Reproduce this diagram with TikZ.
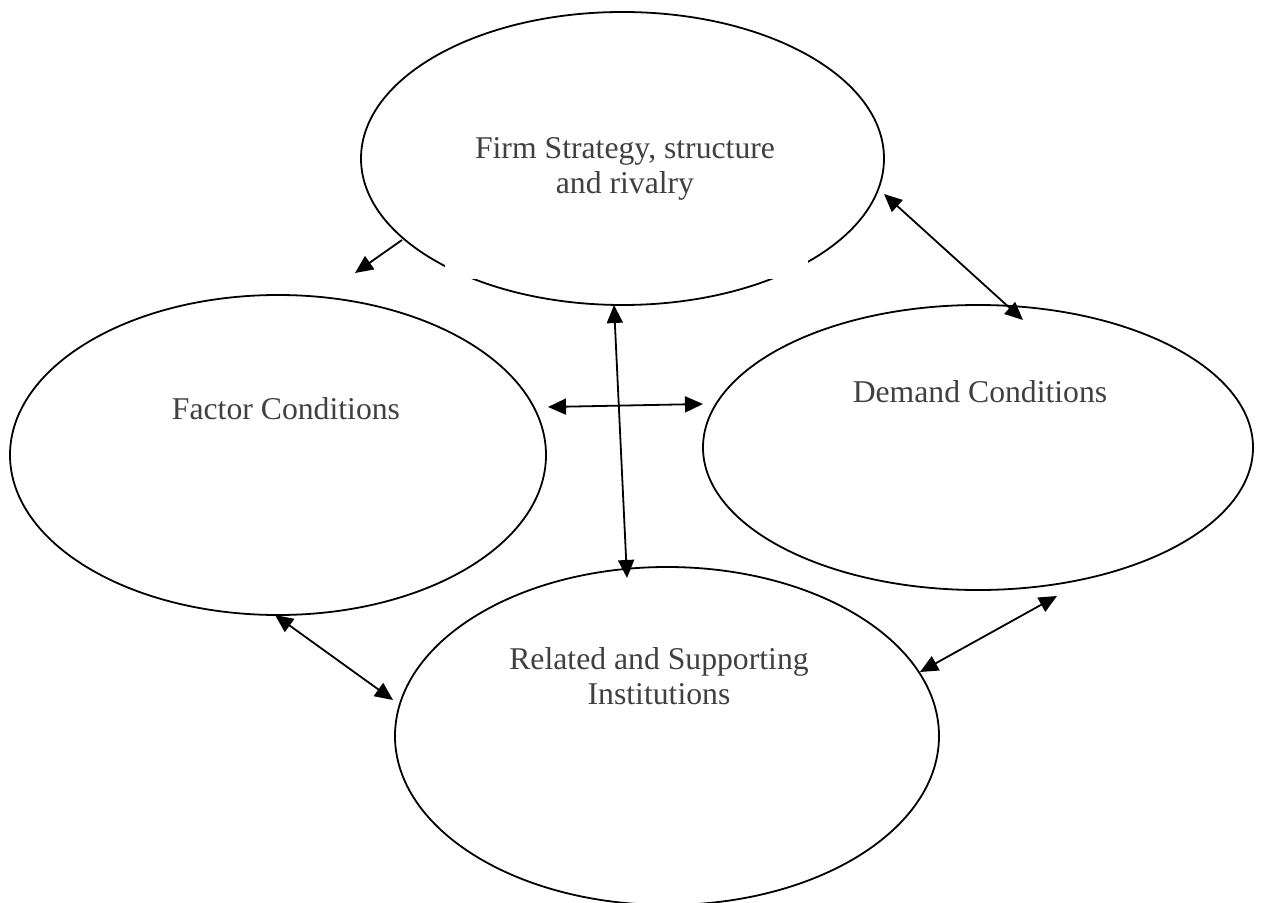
\documentclass[tikz,border=0pt]{standalone}
\usepackage{fontspec}
\setmainfont{Liberation Serif}
\usetikzlibrary{arrows.meta,shapes.geometric}
\definecolor{labelgray}{RGB}{64,64,64}

\begin{document}
\begin{tikzpicture}[x=0.5pt, y=-0.5pt,
  zone/.style={draw, ellipse, line width=0.9pt, inner sep=0pt},
  lbl/.style={align=center, anchor=base, text=labelgray, inner sep=0pt,
    font=\fontsize{15.85}{17.5}\selectfont},
  link/.style={line width=0.9pt,
    {Triangle[length=9pt,width=8pt]}-{Triangle[length=9pt,width=8pt]}},
  oneway/.style={line width=0.9pt, -{Triangle[length=9pt,width=8pt]}}]
\useasboundingbox (0,0) rectangle (1262,903);
\node[zone, minimum width=261.5pt, minimum height=146.5pt] (firm) at (622.5,158.5) {};
\node[zone, minimum width=268pt, minimum height=160pt] (factor) at (278,455) {};
\node[zone, minimum width=275pt, minimum height=142.5pt] (demand) at (978,447.5) {};
\node[zone, minimum width=272pt, minimum height=169pt] (related) at (667,736) {};
\fill[white] (445,250) rectangle (808,279);
\node[lbl] (firmtxt) at (625,194) {Firm Strategy, structure\\and rivalry};
\node[lbl] (factortxt) at (286,419) {Factor Conditions};
\node[lbl] (demandtxt) at (980,402) {Demand Conditions};
\node[lbl] (relatedtxt) at (659,704) {Related and Supporting\\Institutions};
\coordinate (firm sw) at (402,240);
\coordinate (factor ne) at (355,273);
\coordinate (firm e) at (884,194);
\coordinate (demand n) at (1023,320);
\coordinate (factor e) at (548,407);
\coordinate (demand w) at (703,404);
\coordinate (firm s) at (614,305);
\coordinate (related n) at (627,578);
\coordinate (factor s) at (275,615);
\coordinate (related w) at (393,700);
\coordinate (related e) at (920,672);
\coordinate (demand s) at (1057,596);
\draw[oneway] (firm sw) -- (factor ne);
\draw[link] (firm e) -- (demand n);
\draw[link] (factor e) -- (demand w);
\draw[link] (firm s) -- (related n);
\draw[link] (factor s) -- (related w);
\draw[link] (related e) -- (demand s);
\end{tikzpicture}
\end{document}
